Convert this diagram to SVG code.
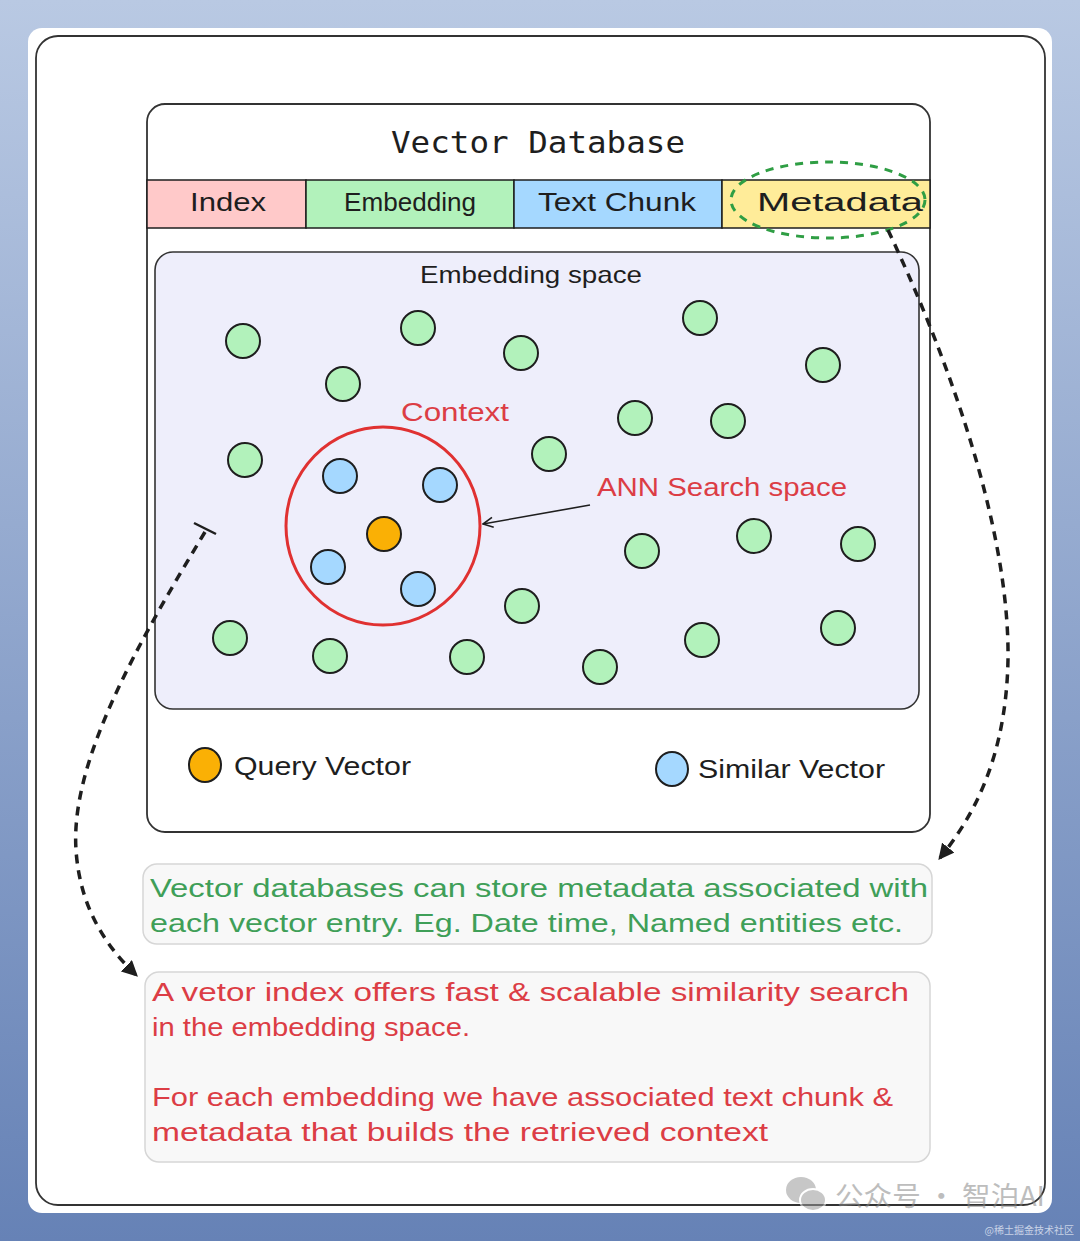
<svg xmlns="http://www.w3.org/2000/svg" width="1080" height="1241" viewBox="0 0 1080 1241">
<defs>
<linearGradient id="bg" x1="0" y1="0" x2="0" y2="1">
<stop offset="0" stop-color="#b9c9e3"/>
<stop offset="1" stop-color="#6682b6"/>
</linearGradient>
<marker id="open" viewBox="0 0 12 12" refX="11" refY="6" markerWidth="12" markerHeight="12" markerUnits="userSpaceOnUse" orient="auto">
<path d="M1,1 L11,6 L1,11" fill="none" stroke="#1e1e1e" stroke-width="1.6"/>
</marker>
<marker id="tri" viewBox="0 0 12 12" refX="10" refY="6" markerWidth="16" markerHeight="16" markerUnits="userSpaceOnUse" orient="auto">
<path d="M0,0 L12,6 L0,12 Z" fill="#1e1e1e"/>
</marker>
</defs>
<style>
.hand{font-family:"Liberation Sans","Noto Sans",sans-serif;}
.dot{stroke:#1e1e1e;stroke-width:2;}
.g{fill:#b2f2bb;}
.b{fill:#a5d8ff;}
.o{fill:#fab005;}
.cell{stroke:#1e1e1e;stroke-width:1.5;}
.dash{fill:none;stroke:#1e1e1e;stroke-width:3.5;stroke-dasharray:9 7;}
.note{fill:#f8f8f8;stroke:#d6d6d6;stroke-width:1.5;}
.red{fill:#dc3d45;}
.grn{fill:#3f9f58;}
</style>
<rect x="0" y="0" width="1080" height="1241" fill="url(#bg)"/>
<rect x="28" y="28" width="1024" height="1185" rx="14" fill="#ffffff"/>
<rect x="36" y="36" width="1009" height="1169" rx="22" fill="none" stroke="#333" stroke-width="1.8"/>

<g id="vector-database">
<rect x="147" y="104" width="783" height="728" rx="18" fill="#ffffff" stroke="#333" stroke-width="1.8"/>
<text x="538" y="153" text-anchor="middle" font-family="DejaVu Sans Mono,Liberation Mono,monospace" font-size="31" fill="#1e1e1e" textLength="294" lengthAdjust="spacingAndGlyphs">Vector Database</text>
</g>

<g id="header">
<g id="cell-index"><rect class="cell" x="147" y="180" width="159" height="48" fill="#ffc9c9"/><text class="hand" x="228" y="211" text-anchor="middle" font-size="25" fill="#1e1e1e" textLength="76" lengthAdjust="spacingAndGlyphs">Index</text></g>
<g id="cell-embedding"><rect class="cell" x="306" y="180" width="208" height="48" fill="#b2f2bb"/><text class="hand" x="410" y="211" text-anchor="middle" font-size="25" fill="#1e1e1e" textLength="132" lengthAdjust="spacingAndGlyphs">Embedding</text></g>
<g id="cell-textchunk"><rect class="cell" x="514" y="180" width="208" height="48" fill="#a5d8ff"/><text class="hand" x="617" y="211" text-anchor="middle" font-size="25" fill="#1e1e1e" textLength="158" lengthAdjust="spacingAndGlyphs">Text Chunk</text></g>
<g id="cell-metadata"><rect class="cell" x="722" y="180" width="208" height="48" fill="#ffec99"/><text class="hand" x="840" y="211" text-anchor="middle" font-size="25" fill="#1e1e1e" textLength="166" lengthAdjust="spacingAndGlyphs">Metadata</text></g>
</g>
<g id="metadata-highlight">
<ellipse cx="828" cy="200" rx="97" ry="38" fill="none" stroke="#2f9e44" stroke-width="3" stroke-dasharray="8 7"/>
</g>

<g id="embedding-space">
<rect x="155" y="252" width="764" height="457" rx="18" fill="#eeeefb" stroke="#333" stroke-width="1.6"/>
<text class="hand" x="531" y="283" text-anchor="middle" font-size="24" fill="#1e1e1e" textLength="222" lengthAdjust="spacingAndGlyphs">Embedding space</text>
</g>

<g id="vectors">
<circle class="dot g" cx="243" cy="341" r="17"/>
<circle class="dot g" cx="418" cy="328" r="17"/>
<circle class="dot g" cx="521" cy="353" r="17"/>
<circle class="dot g" cx="700" cy="318" r="17"/>
<circle class="dot g" cx="823" cy="365" r="17"/>
<circle class="dot g" cx="343" cy="384" r="17"/>
<circle class="dot g" cx="635" cy="418" r="17"/>
<circle class="dot g" cx="728" cy="421" r="17"/>
<circle class="dot g" cx="549" cy="454" r="17"/>
<circle class="dot g" cx="245" cy="460" r="17"/>
<circle class="dot g" cx="642" cy="551" r="17"/>
<circle class="dot g" cx="754" cy="536" r="17"/>
<circle class="dot g" cx="858" cy="544" r="17"/>
<circle class="dot g" cx="522" cy="606" r="17"/>
<circle class="dot g" cx="230" cy="638" r="17"/>
<circle class="dot g" cx="330" cy="656" r="17"/>
<circle class="dot g" cx="467" cy="657" r="17"/>
<circle class="dot g" cx="600" cy="667" r="17"/>
<circle class="dot g" cx="702" cy="640" r="17"/>
<circle class="dot g" cx="838" cy="628" r="17"/>
<circle class="dot b" cx="340" cy="476" r="17"/>
<circle class="dot b" cx="440" cy="485" r="17"/>
<circle class="dot b" cx="328" cy="567" r="17"/>
<circle class="dot b" cx="418" cy="589" r="17"/>
<circle class="dot o" cx="384" cy="534" r="17"/>
</g>

<g id="context">
<ellipse cx="383" cy="526" rx="97" ry="99" fill="none" stroke="#e03131" stroke-width="3"/>
<text class="hand red" x="455" y="421" text-anchor="middle" font-size="25" textLength="108" lengthAdjust="spacingAndGlyphs">Context</text>
</g>

<g id="ann-label">
<text class="hand red" x="722" y="496" text-anchor="middle" font-size="25" textLength="250" lengthAdjust="spacingAndGlyphs">ANN Search space</text>
</g>

<g id="legend">
<g id="legend-query"><ellipse class="dot o" cx="205" cy="765" rx="16" ry="17"/><text class="hand" x="234" y="775" font-size="25" fill="#1e1e1e" textLength="177" lengthAdjust="spacingAndGlyphs">Query Vector</text></g>
<g id="legend-similar"><ellipse class="dot b" cx="672" cy="769" rx="16" ry="17"/><text class="hand" x="698" y="778" font-size="25" fill="#1e1e1e" textLength="187" lengthAdjust="spacingAndGlyphs">Similar Vector</text></g>
</g>

<g id="note-metadata">
<rect class="note" x="143" y="864" width="789" height="80" rx="14"/>
<text class="hand grn" x="150" y="897" font-size="25" textLength="778" lengthAdjust="spacingAndGlyphs">Vector databases can store metadata associated with</text>
<text class="hand grn" x="150" y="932" font-size="25" textLength="753" lengthAdjust="spacingAndGlyphs">each vector entry. Eg. Date time, Named entities etc.</text>
</g>

<g id="note-index">
<rect class="note" x="145" y="972" width="785" height="190" rx="14"/>
<text class="hand red" x="152" y="1001" font-size="25" textLength="757" lengthAdjust="spacingAndGlyphs">A vetor index offers fast &amp; scalable similarity search</text>
<text class="hand red" x="152" y="1036" font-size="25" textLength="318" lengthAdjust="spacingAndGlyphs">in the embedding space.</text>
<text class="hand red" x="152" y="1106" font-size="25" textLength="741" lengthAdjust="spacingAndGlyphs">For each embedding we have associated text chunk &amp;</text>
<text class="hand red" x="152" y="1141" font-size="25" textLength="616" lengthAdjust="spacingAndGlyphs">metadata that builds the retrieved context</text>
</g>

<g id="connectors">
<line x1="590" y1="505" x2="483" y2="524" stroke="#1e1e1e" stroke-width="1.6" marker-end="url(#open)"/>
<path class="dash" d="M 888 230 C 940 340, 1010 520, 1008 660 C 1006 760, 972 818, 940 858" marker-end="url(#tri)"/>
<path class="dash" d="M 205 532 C 140 640, 70 760, 76 850 C 80 910, 108 948, 136 975" marker-end="url(#tri)"/>
<line x1="194" y1="523" x2="216" y2="534" stroke="#1e1e1e" stroke-width="2.5"/>
</g>

<g id="watermark" opacity="0.55">
<ellipse cx="801" cy="1190" rx="15" ry="13" fill="#9a9a9a"/>
<ellipse cx="813" cy="1200" rx="13" ry="11" fill="#9a9a9a" stroke="#ffffff" stroke-width="2"/>
<text x="835" y="1206" font-family="Noto Sans CJK SC,sans-serif" font-size="27" fill="#888" textLength="210" lengthAdjust="spacingAndGlyphs">公众号 · 智泊AI</text>
</g>
<text x="1074" y="1234" text-anchor="end" font-family="Noto Sans CJK SC,sans-serif" font-size="10" fill="#c9d3e6">@稀土掘金技术社区</text>
</svg>
